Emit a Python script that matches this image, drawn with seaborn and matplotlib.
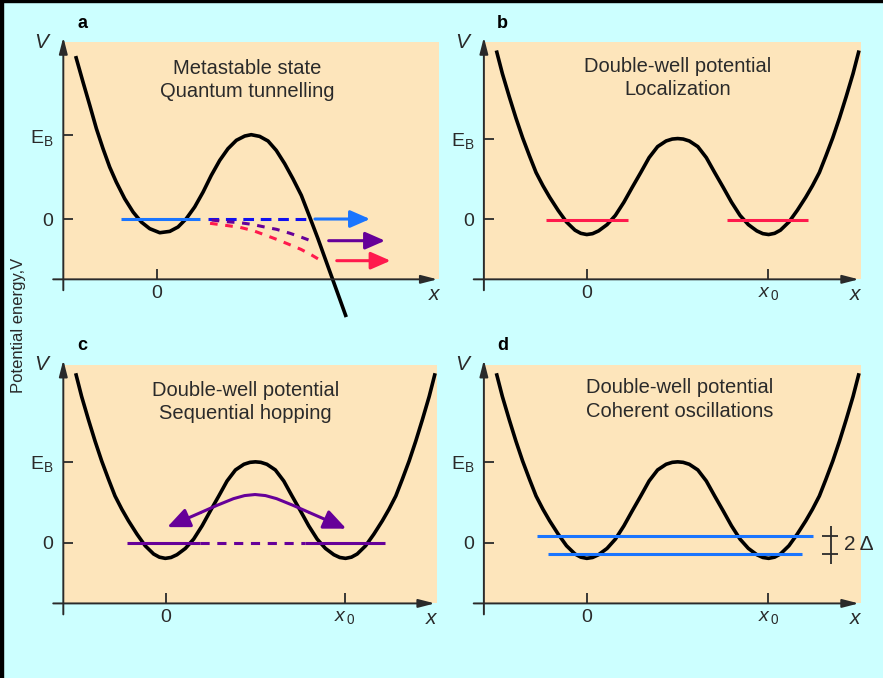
import matplotlib.pyplot as plt
from matplotlib.patches import Rectangle
import seaborn as sns

# x in units of x0 (well distance), V in units of E_B
# double-well potential (same curve in b, c, d)
dw_x = [-0.501, -0.468, -0.430, -0.393, -0.356, -0.318, -0.282, -0.244, -0.207, -0.160,
        -0.114, -0.067, -0.035, -0.002, 0.03, 0.063, 0.110, 0.156, 0.203, 0.249,
        0.296, 0.342, 0.389, 0.436, 0.470, 0.5, 0.530, 0.564, 0.611, 0.658,
        0.704, 0.751, 0.797, 0.844, 0.890, 0.937, 0.97, 1.002, 1.035, 1.067,
        1.114, 1.160, 1.207, 1.244, 1.282, 1.318, 1.356, 1.393, 1.430, 1.468,
        1.501]
dw_v = [2.095, 1.808, 1.521, 1.255, 1.009, 0.783, 0.578, 0.414, 0.271, 0.107,
        -0.037, -0.139, -0.178, -0.193, -0.182, -0.148, -0.070, 0.045, 0.209, 0.394,
        0.578, 0.763, 0.900, 0.970, 0.994, 1.0, 0.994, 0.970, 0.900, 0.763,
        0.578, 0.394, 0.209, 0.045, -0.070, -0.148, -0.182, -0.193, -0.178, -0.139,
        -0.037, 0.107, 0.271, 0.414, 0.578, 0.783, 1.009, 1.255, 1.521, 1.808,
        2.095]

# metastable potential (panel a)
ms_x = [-0.453, -0.412, -0.374, -0.337, -0.300, -0.263, -0.226, -0.179, -0.132, -0.086,
        -0.039, 0.017, 0.073, 0.119, 0.165, 0.212, 0.259, 0.305, 0.352, 0.398,
        0.445, 0.492, 0.528, 0.575, 0.622, 0.668, 0.715, 0.761, 0.808, 0.855,
        0.901, 0.948, 0.985, 1.022, 1.059]
ms_v = [1.94, 1.631, 1.353, 1.075, 0.837, 0.619, 0.44, 0.242, 0.083, -0.036,
        -0.115, -0.163, -0.147, -0.095, 0.004, 0.143, 0.321, 0.520, 0.698, 0.837,
        0.937, 0.988, 1.004, 0.984, 0.929, 0.817, 0.659, 0.480, 0.282, 0.024,
        -0.234, -0.512, -0.730, -0.948, -1.167]

# panel a: tunnelling paths
blue_solid_x = [-0.20, 0.242]
blue_dash_x = [0.288, 0.838]
blue_arrow_x = [0.884, 1.192]
purple_x = [0.307, 0.391, 0.465, 0.531, 0.596, 0.670, 0.745, 0.810, 0.875]
purple_v = [-0.012, -0.032, -0.044, -0.063, -0.092, -0.123, -0.170, -0.218, -0.270]
purple_arrow_x = [0.961, 1.276]
purple_arrow_v = -0.258
red_x = [0.298, 0.370, 0.465, 0.540, 0.605, 0.670, 0.735, 0.806, 0.866, 0.912]
red_v = [-0.051, -0.071, -0.099, -0.139, -0.190, -0.242, -0.298, -0.361, -0.429, -0.488]
red_arrow_x = [1.006, 1.307]
red_arrow_v = -0.496

# panel b: localized levels
loc_left_x = [-0.226, 0.223]
loc_right_x = [0.771, 1.218]
loc_v = -0.01

# panel c: sequential hopping
hop_left_x = [-0.216, 0.194]
hop_dash_x = [0.194, 0.775]
hop_right_x = [0.775, 1.221]
hop_arc_x = [0.009, 0.194, 0.286, 0.378, 0.44, 0.498, 0.556, 0.618, 0.71, 0.802, 1.006]
hop_arc_v = [0.193, 0.372, 0.462, 0.545, 0.583, 0.596, 0.583, 0.545, 0.462, 0.372, 0.174]

# panel d: split levels
coh_upper_x = [-0.279, 1.247]
coh_upper_v = 0.089
coh_lower_x = [-0.214, 1.184]
coh_lower_v = -0.136
delta_x = 1.344

titles = ["Metastable state\nQuantum tunnelling",
          "Double-well potential\nLocalization",
          "Double-well potential\nSequential hopping",
          "Double-well potential\nCoherent oscillations"]

sns.set_theme(style="white")
plt.rcParams['font.family'] = ['Liberation Sans', 'DejaVu Sans']
plt.rcParams['mathtext.fontset'] = 'custom'
plt.rcParams['mathtext.rm'] = 'Liberation Sans'
plt.rcParams['mathtext.it'] = 'Liberation Sans:italic'

cyan = '#ccffff'
beige = '#fde5bb'
ink = '#2a2a2a'
blue = '#1a75ff'
dblue = '#1010f0'
purple = '#660099'
red = '#ff1a4d'

fig = plt.figure(figsize=(8.83, 6.78), dpi=100, facecolor=cyan)
fig.add_artist(Rectangle((0, 0), 3 / 883, 1, transform=fig.transFigure, color='black'))
fig.add_artist(Rectangle((0, 1 - 2 / 678), 1, 2 / 678, transform=fig.transFigure, color='black'))

ax_a = fig.add_axes([0.0717, 0.588, 0.4258, 0.350])
ax_b = fig.add_axes([0.548, 0.588, 0.4267, 0.350])
ax_c = fig.add_axes([0.0717, 0.110, 0.4229, 0.352])
ax_d = fig.add_axes([0.548, 0.110, 0.4267, 0.352])
axes = [ax_a, ax_b, ax_c, ax_d]


def setup(ax, letter, title, tx, ty, two_ticks):
    ax.set_facecolor(beige)
    for s in ax.spines.values():
        s.set_visible(False)
    ax.grid(False)
    ax.set_yticks([0, 1])
    ax.set_yticklabels(['0', r'$\mathregular{E_B}$'], fontsize=14, color=ink)
    if two_ticks:
        ax.set_xticks([0, 1])
        ax.set_xticklabels(['0', r'$x_{\,0}$'], fontsize=14, color=ink)
    else:
        ax.set_xticks([0])
        ax.set_xticklabels(['0'], fontsize=14, color=ink)
    ax.tick_params(axis='y', direction='in', length=7, width=1.3, color=ink, pad=7, left=True)
    ax.tick_params(axis='x', direction='in', length=7, width=1.3, color=ink, pad=4, bottom=True)
    # axis lines with arrows, running past the origin
    arw = dict(arrowstyle='-|>,head_length=0.7,head_width=0.18', lw=1.4, color=ink,
               shrinkA=0, shrinkB=0, mutation_scale=14)
    ax.annotate('', xy=(0, 1.02), xytext=(0, -0.046), xycoords='axes fraction',
                arrowprops=arw, annotation_clip=False)
    ax.annotate('', xy=(0.995, 0), xytext=(-0.027, 0), xycoords='axes fraction',
                arrowprops=arw, annotation_clip=False)
    ax.text(-0.04, 1.0, 'V', transform=ax.transAxes, ha='right', va='center',
            fontsize=15, style='italic', color=ink)
    ax.text(0.985, -0.065, 'x', transform=ax.transAxes, ha='center', va='center',
            fontsize=15, style='italic', color=ink)
    ax.text(0.05, 1.08, letter, transform=ax.transAxes, ha='center', va='center',
            fontsize=13, fontweight='bold', color='black')
    ax.text(tx, ty, title, transform=ax.transAxes, ha='center', va='center',
            fontsize=14.5, color=ink, linespacing=1.3, multialignment='center')


def arrow(ax, x0, x1, v, color):
    ax.annotate('', xy=(x1, v), xytext=(x0, v),
                arrowprops=dict(arrowstyle='-|>,head_length=0.8,head_width=0.35', lw=2.2,
                                color=color, shrinkA=0, shrinkB=0, mutation_scale=15))


setup(ax_a, 'a', titles[0], 0.489, 0.84, False)
setup(ax_b, 'b', titles[1], 0.515, 0.848, True)
setup(ax_c, 'c', titles[2], 0.487, 0.843, True)
setup(ax_d, 'd', titles[3], 0.519, 0.854, True)

ax_a.set_xlim(-0.522, 1.579)
ax_a.set_ylim(-0.718, 2.107)
for ax in [ax_b, ax_c, ax_d]:
    ax.set_xlim(-0.57, 1.51)
    ax.set_ylim(-0.75, 2.2)

# panel a
sns.lineplot(x=ms_x, y=ms_v, ax=ax_a, color='black', lw=2.6, sort=False, estimator=None)
ax_a.lines[-1].set_clip_on(False)
ax_a.plot(blue_solid_x, [0, 0], color=blue, lw=2.2)
ax_a.plot(blue_dash_x, [0, 0], color=dblue, lw=2.2, dashes=(3.5, 2.2))
arrow(ax_a, blue_arrow_x[0], blue_arrow_x[1], 0, blue)
ax_a.plot(purple_x, purple_v, color=purple, lw=2.2, dashes=(2.5, 2.5))
arrow(ax_a, purple_arrow_x[0], purple_arrow_x[1], purple_arrow_v, purple)
ax_a.plot(red_x, red_v, color=red, lw=2.2, dashes=(2.5, 2.5))
arrow(ax_a, red_arrow_x[0], red_arrow_x[1], red_arrow_v, red)

# panel b
sns.lineplot(x=dw_x, y=dw_v, ax=ax_b, color='black', lw=2.6, sort=False, estimator=None)
ax_b.plot(loc_left_x, [loc_v, loc_v], color=red, lw=2.2)
ax_b.plot(loc_right_x, [loc_v, loc_v], color=red, lw=2.2)

# panel c
sns.lineplot(x=dw_x, y=dw_v, ax=ax_c, color='black', lw=2.6, sort=False, estimator=None)
ax_c.plot(hop_left_x, [0, 0], color=purple, lw=2.2)
ax_c.plot(hop_dash_x, [0, 0], color=purple, lw=2.2, dashes=(3, 2.5))
ax_c.plot(hop_right_x, [0, 0], color=purple, lw=2.2)
ax_c.plot(hop_arc_x[1:-1], hop_arc_v[1:-1], color=purple, lw=2.2)
hop_head = dict(arrowstyle='-|>,head_length=0.8,head_width=0.35', lw=2.2, color=purple,
                shrinkA=0, shrinkB=0, mutation_scale=17)
ax_c.annotate('', xy=(hop_arc_x[0], hop_arc_v[0]), xytext=(hop_arc_x[1], hop_arc_v[1]),
              arrowprops=hop_head)
ax_c.annotate('', xy=(hop_arc_x[-1], hop_arc_v[-1]), xytext=(hop_arc_x[-2], hop_arc_v[-2]),
              arrowprops=hop_head)

# panel d
sns.lineplot(x=dw_x, y=dw_v, ax=ax_d, color='black', lw=2.6, sort=False, estimator=None)
ax_d.plot(coh_upper_x, [coh_upper_v, coh_upper_v], color=blue, lw=2.2)
ax_d.plot(coh_lower_x, [coh_lower_v, coh_lower_v], color=blue, lw=2.2)
ax_d.plot([delta_x, delta_x], [coh_upper_v + 0.115, coh_lower_v - 0.128], color=ink, lw=1.3)
ax_d.plot([delta_x - 0.05, delta_x + 0.042], [coh_upper_v, coh_upper_v], color=ink, lw=1.3)
ax_d.plot([delta_x - 0.05, delta_x + 0.042], [coh_lower_v, coh_lower_v], color=ink, lw=1.3)
ax_d.text(delta_x + 0.075, (coh_upper_v + coh_lower_v) / 2, '2\u2009\u0394', ha='left',
          va='center', fontsize=15, color=ink, clip_on=False)

for ax in axes:
    for ln in ax.lines:
        ln.set_solid_capstyle('butt')
        ln.set_solid_joinstyle('round')

fig.text(0.021, 0.52, 'Potential energy,V', rotation=90, ha='center', va='center',
         fontsize=12, color=ink)

fig.savefig('out.png', dpi=100, facecolor=cyan)
